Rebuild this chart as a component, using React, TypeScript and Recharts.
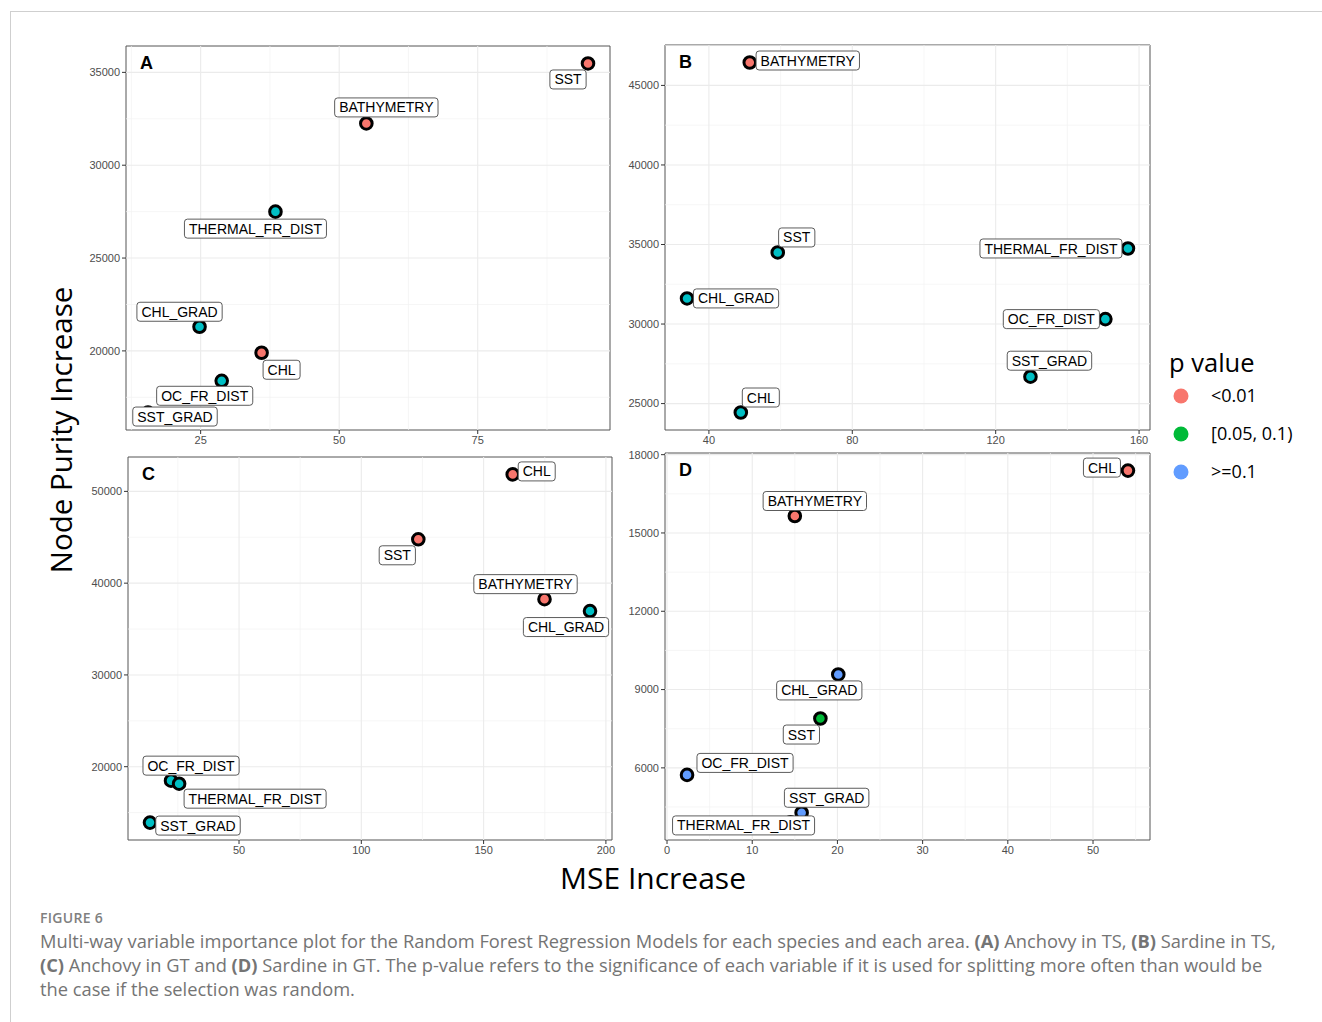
import React from 'react';
import { ScatterChart, Scatter, XAxis, YAxis, ReferenceLine, ReferenceArea } from 'recharts';

// Predictor variables, same order in every panel
const variables = ['SST', 'BATHYMETRY', 'CHL', 'CHL_GRAD', 'SST_GRAD', 'OC_FR_DIST', 'THERMAL_FR_DIST'];

// p-value classes (legend order)
const pLevels = ['<0.01', '[0.05, 0.1)', '>=0.1'];

// (A) Anchovy in TS
const mseA = [94.9, 54.9, 36.0, 24.8, 15.5, 28.8, 38.5];
const purityA = [35480, 32250, 19900, 21300, 16680, 18390, 27500];
const pA = ['<0.01', '<0.01', '<0.01', '>=0.1', '>=0.1', '>=0.1', '>=0.1'];

// (B) Sardine in TS
const mseB = [59.2, 51.4, 48.9, 33.9, 129.7, 150.6, 156.9];
const purityB = [34500, 46440, 24440, 31610, 26690, 30310, 34750];
const pB = ['>=0.1', '<0.01', '>=0.1', '>=0.1', '>=0.1', '>=0.1', '>=0.1'];

// (C) Anchovy in GT
const mseC = [123.3, 174.9, 161.9, 193.5, 13.6, 22.2, 25.5];
const purityC = [44780, 38260, 51850, 36960, 13910, 18480, 18150];
const pC = ['<0.01', '<0.01', '<0.01', '>=0.1', '>=0.1', '>=0.1', '>=0.1'];

// (D) Sardine in GT
const mseD = [18.0, 15.0, 54.1, 20.1, 15.8, 2.35, 14.5];
const purityD = [7890, 15650, 17390, 9580, 4280, 5730, 3910];
const pD = ['[0.05, 0.1)', '<0.01', '<0.01', '>=0.1', '>=0.1', '>=0.1', '>=0.1'];

// Axis tick values
const xTicksA = [25, 50, 75];
const yTicksA = [20000, 25000, 30000, 35000];
const xTicksB = [40, 80, 120, 160];
const yTicksB = [25000, 30000, 35000, 40000, 45000];
const xTicksC = [50, 100, 150, 200];
const yTicksC = [20000, 30000, 40000, 50000];
const xTicksD = [0, 10, 20, 30, 40, 50];
const yTicksD = [6000, 9000, 12000, 15000, 18000];

// Repelled label placement: box-centre offset from the point, in px
const nudgeA = [[-20, 16], [20, -16], [20, 17], [-20, -15], [27, 4], [-17, 15], [-20, 17]];
const nudgeB = [[19, -15], [58, -2], [20, -15], [49, 0], [19, -16], [-54, 0], [-77, 0]];
const nudgeC = [[-21, 16], [-19, -15], [24, -3], [-24, 16], [48, 3], [20, -15], [76, 15]];
const nudgeD = [[-19, 16], [20, -15], [-26, -3], [-19, 16], [25, -15], [58, -12], [-47, 3]];

// ggplot hue palettes
const hue2 = ['#F8766D', '#00BFC4'];
const hue3 = ['#F8766D', '#00BA38', '#619CFF'];

const ARIAL = "'Liberation Sans', Arial, Helvetica, sans-serif";
const OPEN = "'Open Sans', 'Noto Sans', sans-serif";

let measureCtx: CanvasRenderingContext2D | null = null;
function textWidth(s: string, font: string): number {
  if (!measureCtx) {
    const c = document.createElement('canvas');
    measureCtx = c.getContext('2d');
  }
  if (!measureCtx) return s.length * 8;
  measureCtx.font = font;
  return measureCtx.measureText(s).width;
}

function expand(vals: number[]): [number, number] {
  const lo = Math.min(...vals);
  const hi = Math.max(...vals);
  const pad = (hi - lo) * 0.05;
  return [lo - pad, hi + pad];
}

function minorBreaks(ticks: number[], dom: [number, number]): number[] {
  const step = ticks[1] - ticks[0];
  const out: number[] = [];
  for (let v = ticks[0] - step / 2; v <= dom[1]; v += step) {
    if (v >= dom[0]) out.push(v);
  }
  return out;
}

type PanelSpec = {
  letter: string;
  box: { x0: number; y0: number; x1: number; y1: number };
  mse: number[];
  purity: number[];
  p: string[];
  xTicks: number[];
  yTicks: number[];
  nudge: number[][];
};

const LABEL_FONT_SIZE = 14;

const PointShape = (props: any) => {
  const { cx, cy, payload } = props;
  if (cx == null || cy == null) return null;
  return <circle cx={cx} cy={cy} r={5.8} fill={payload.color} stroke="#000" strokeWidth={3} />;
};

const LabelShape = (props: any) => {
  const { cx, cy, payload } = props;
  if (cx == null || cy == null) return null;
  const w = textWidth(payload.name, `${LABEL_FONT_SIZE}px ${ARIAL}`) + 9;
  const h = 19;
  const mx = cx + payload.dx;
  const my = cy + payload.dy;
  return (
    <g>
      <rect x={mx - w / 2} y={my - h / 2} width={w} height={h} rx={3} ry={3} fill="#fff" stroke="#4a4a4a" strokeWidth={0.9} />
      <text x={mx} y={my} dy="0.36em" textAnchor="middle" fontFamily={ARIAL} fontSize={LABEL_FONT_SIZE} fill="#000">
        {payload.name}
      </text>
    </g>
  );
};

function Panel({ spec }: { spec: PanelSpec }) {
  const { box, mse, purity, p, xTicks, yTicks, nudge } = spec;
  const present = pLevels.filter((l) => p.includes(l));
  const pal = present.length === 3 ? hue3 : hue2;
  const data = variables.map((name, i) => ({
    name,
    mse: mse[i],
    purity: purity[i],
    p: p[i],
    color: pal[present.indexOf(p[i])],
    dx: nudge[i][0],
    dy: nudge[i][1],
  }));
  const xDom = expand(mse);
  const yDom = expand(purity);
  const left = 65;
  const top = 10;
  const W = box.x1 - box.x0 + left + 10;
  const H = box.y1 - box.y0 + top + 30;
  const tickStyle = { fill: '#4d4d4d', fontSize: 11, fontFamily: ARIAL };
  return (
    <div style={{ position: 'absolute', left: box.x0 - left, top: box.y0 - top }}>
      <ScatterChart width={W} height={H} margin={{ top, right: 10, bottom: 5, left: 5 }}>
        <XAxis
          type="number"
          dataKey="mse"
          domain={xDom}
          ticks={xTicks}
          interval={0}
          allowDataOverflow
          axisLine={false}
          tickLine={{ stroke: '#333', strokeWidth: 1 }}
          tickSize={4}
          tick={tickStyle}
          height={25}
        />
        <YAxis
          type="number"
          dataKey="purity"
          domain={yDom}
          ticks={yTicks}
          interval={0}
          allowDataOverflow
          axisLine={false}
          tickLine={{ stroke: '#333', strokeWidth: 1 }}
          tickSize={4}
          tick={tickStyle}
          width={60}
        />
        {minorBreaks(xTicks, xDom).map((v) => (
          <ReferenceLine key={`mx${v}`} x={v} stroke="#f2f2f2" strokeWidth={0.7} ifOverflow="visible" />
        ))}
        {minorBreaks(yTicks, yDom).map((v) => (
          <ReferenceLine key={`my${v}`} y={v} stroke="#f2f2f2" strokeWidth={0.7} ifOverflow="visible" />
        ))}
        {xTicks.map((v) => (
          <ReferenceLine key={`gx${v}`} x={v} stroke="#ebebeb" strokeWidth={1.1} ifOverflow="visible" />
        ))}
        {yTicks.map((v) => (
          <ReferenceLine key={`gy${v}`} y={v} stroke="#ebebeb" strokeWidth={1.1} ifOverflow="visible" />
        ))}
        <ReferenceArea
          x1={xDom[0]}
          x2={xDom[1]}
          y1={yDom[0]}
          y2={yDom[1]}
          fill="none"
          fillOpacity={0}
          stroke="#555"
          strokeWidth={1}
          ifOverflow="visible"
        />
        <Scatter data={data} shape={PointShape} isAnimationActive={false} />
        <Scatter data={data} shape={LabelShape} isAnimationActive={false} />
      </ScatterChart>
    </div>
  );
}

const panels: PanelSpec[] = [
  { letter: 'A', box: { x0: 126, y0: 46, x1: 610, y1: 430 }, mse: mseA, purity: purityA, p: pA, xTicks: xTicksA, yTicks: yTicksA, nudge: nudgeA },
  { letter: 'B', box: { x0: 665, y0: 45, x1: 1150, y1: 430 }, mse: mseB, purity: purityB, p: pB, xTicks: xTicksB, yTicks: yTicksB, nudge: nudgeB },
  { letter: 'C', box: { x0: 128, y0: 457, x1: 612, y1: 840 }, mse: mseC, purity: purityC, p: pC, xTicks: xTicksC, yTicks: yTicksC, nudge: nudgeC },
  { letter: 'D', box: { x0: 665, y0: 453, x1: 1150, y1: 840 }, mse: mseD, purity: purityD, p: pD, xTicks: xTicksD, yTicks: yTicksD, nudge: nudgeD },
];

const legendColors = hue3;

export default function App() {
  return (
    <div style={{ position: 'absolute', left: 0, top: 0, width: 1322, height: 1022, background: '#fff', overflow: 'hidden' }}>
      <div
        style={{
          position: 'absolute',
          left: 10,
          top: 11,
          width: 1312,
          height: 1011,
          borderTop: '1px solid #cfcfcf',
          borderLeft: '1px solid #cfcfcf',
          boxSizing: 'border-box',
        }}
      />
      {panels.map((s) => (
        <Panel key={s.letter} spec={s} />
      ))}
      <svg width={1322} height={1022} style={{ position: 'absolute', left: 0, top: 0, pointerEvents: 'none' }}>
        {panels.map((s) => (
          <text key={s.letter} x={s.box.x0 + 14} y={s.box.y0 + 23} fontFamily={ARIAL} fontWeight="bold" fontSize={18} fill="#000">
            {s.letter}
          </text>
        ))}
        <text x={72} y={430} transform="rotate(-90 72 430)" textAnchor="middle" fontFamily={OPEN} fontSize={29.5} fill="#000">
          Node Purity Increase
        </text>
        <text x={653} y={889} textAnchor="middle" fontFamily={OPEN} fontSize={30} fill="#000">
          MSE Increase
        </text>
        <text x={1169} y={372} fontFamily={OPEN} fontSize={25.5} fill="#000">
          p value
        </text>
        {pLevels.map((l, i) => (
          <g key={l}>
            <circle cx={1181} cy={396 + i * 38} r={7.5} fill={legendColors[i]} />
            <text x={1211} y={402 + i * 38} fontFamily={OPEN} fontSize={18} fill="#000">
              {l}
            </text>
          </g>
        ))}
      </svg>
      <div
        style={{
          position: 'absolute',
          left: 40,
          top: 908,
          fontFamily: OPEN,
          fontSize: 14,
          fontWeight: 600,
          color: '#808080',
          letterSpacing: 0.3,
          lineHeight: '20px',
        }}
      >
        FIGURE 6
      </div>
      <div
        style={{
          position: 'absolute',
          left: 40,
          top: 929,
          fontFamily: OPEN,
          fontSize: 18.3,
          color: '#747474',
          lineHeight: '24px',
          whiteSpace: 'nowrap',
        }}
      >
        Multi-way variable importance plot for the Random Forest Regression Models for each species and each area. <b>(A)</b> Anchovy in TS, <b>(B)</b> Sardine in TS,
        <br />
        <b>(C)</b> Anchovy in GT and <b>(D)</b> Sardine in GT. The p-value refers to the significance of each variable if it is used for splitting more often than would be
        <br />
        the case if the selection was random.
      </div>
    </div>
  );
}
